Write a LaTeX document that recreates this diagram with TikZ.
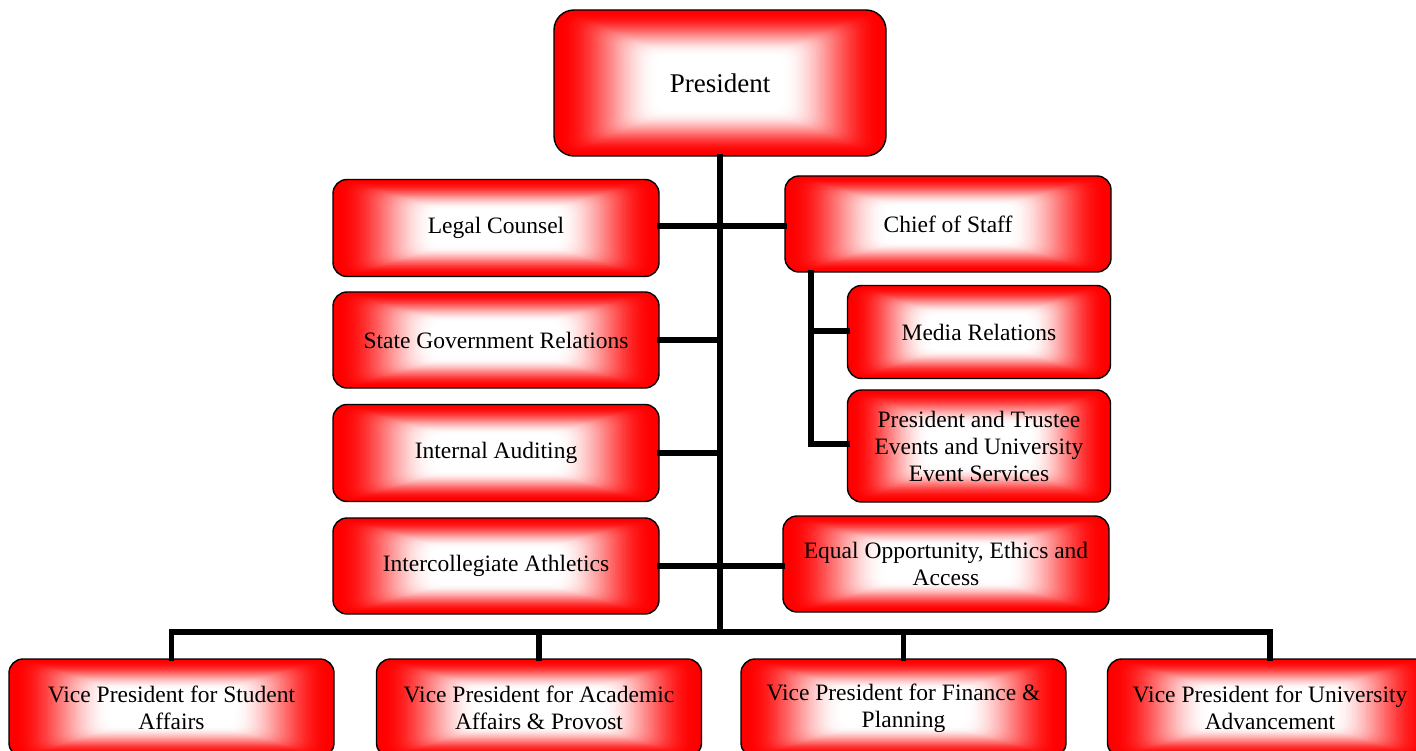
\documentclass[tikz,border=0pt]{standalone}
\usepackage{fontspec}
\setmainfont{Liberation Serif}
\usetikzlibrary{calc}
\tikzset{
  box/.style={draw=black, line width=1.4pt, rounded corners=14pt,
    fill=red,
    path picture={
      \foreach \i in {1,...,60}{
        \pgfmathsetmacro\f{\i/60*0.9}
        \pgfmathsetmacro\x{max(0,min(1,(\f-0.02)/0.6))}
        \pgfmathsetmacro\r{100*(1-\x*\x*(3-2*\x))}
        \fill[red!\r!white, rounded corners=10pt]
          ($(path picture bounding box.south west)!\f!(path picture bounding box.center)$)
          rectangle
          ($(path picture bounding box.north east)!\f!(path picture bounding box.center)$);
      }
    },
    align=center, inner sep=2pt,
    font=\fontsize{23.5}{27}\selectfont},
  conn/.style={line width=5.5pt, line join=miter, line cap=rect}
}
\begin{document}
\begin{tikzpicture}[x=1pt,y=-1pt]
\useasboundingbox (0,0) rectangle (1416,751);
\coordinate (bar) at (720,632);
\coordinate (sub) at (811,0);
% nodes
\node[box, minimum width=332pt, minimum height=146pt, rounded corners=20pt, font=\fontsize{27}{31}\selectfont] (pres) at (720,83) {President};
\node[box, minimum width=326pt, minimum height=97pt] (legal) at (496,228) {Legal Counsel};
\node[box, minimum width=326pt, minimum height=96pt] (state) at (496,340) {State Government Relations};
\node[box, minimum width=326pt, minimum height=97pt] (audit) at (496,453) {Internal Auditing};
\node[box, minimum width=326pt, minimum height=96pt] (athl) at (496,566) {Intercollegiate Athletics};
\node[box, minimum width=326pt, minimum height=96pt] (cos) at (948,224) {Chief of Staff};
\node[box, minimum width=263pt, minimum height=93pt] (media) at (979,332) {Media Relations};
\node[box, minimum width=263pt, minimum height=112pt] (pte) at (979,446) {President and Trustee\\Events and University\\Event Services};
\node[box, minimum width=326pt, minimum height=96pt] (eeo) at (946,564) {Equal Opportunity, Ethics and\\Access};
\node[box, minimum width=325pt, minimum height=98pt] (vp1) at (171.5,708) {Vice President for Student\\Affairs};
\node[box, minimum width=325pt, minimum height=98pt] (vp2) at (539,708) {Vice President for Academic\\Affairs \& Provost};
\node[box, minimum width=325pt, minimum height=98pt] (vp3) at (903.5,708) {Vice President for Finance \&\\Planning};
\node[box, minimum width=325pt, minimum height=98pt] (vp4) at (1270,708) {Vice President for University\\Advancement};
% connectors
\draw[conn] (pres.south) -- (pres.south |- bar);
\draw[conn] ($(legal.east)+(0,-2)$) -- ($(legal.east -| cos.west)+(0,-2)$);
\draw[conn] (state.east) -- (state.east -| pres.south);
\draw[conn] (audit.east) -- (audit.east -| pres.south);
\draw[conn] (athl.east) -- (athl.east -| eeo.west);
\draw[conn] (cos.south -| sub) -- ($(pte.west -| sub)+(0,-2)$) -- ($(pte.west)+(0,-2)$);
\draw[conn] ($(media.west -| sub)+(0,-1)$) -- ($(media.west)+(0,-1)$);
\draw[conn] (vp1.north) -- (vp1.north |- bar) -- (vp4.north |- bar) -- (vp4.north);
\draw[conn] (vp2.north) -- (vp2.north |- bar);
\draw[conn] (vp3.north) -- (vp3.north |- bar);
\end{tikzpicture}
\end{document}
